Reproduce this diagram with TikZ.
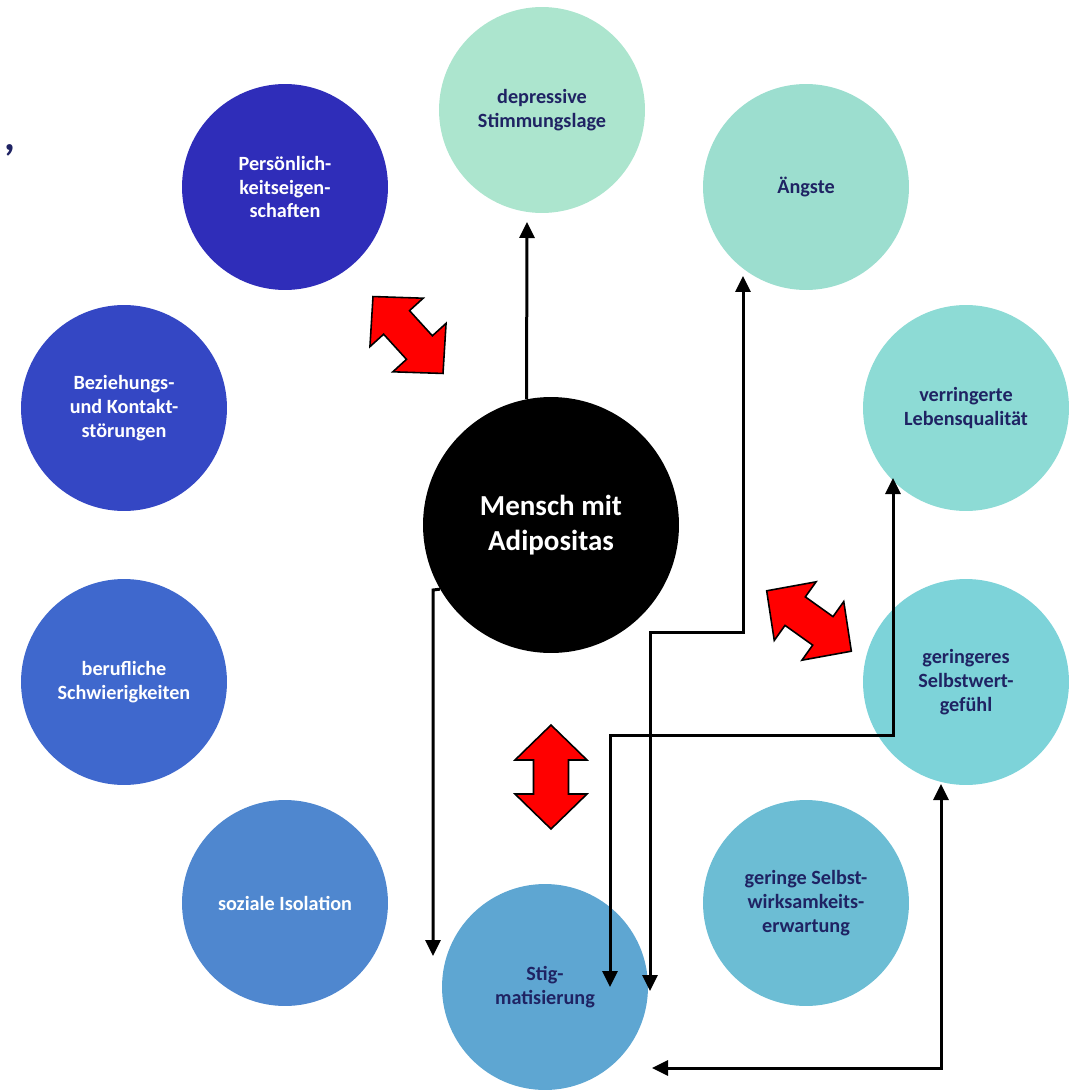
\documentclass[tikz,border=0pt]{standalone}
\usepackage{fontspec}
\setmainfont{Carlito}
\usetikzlibrary{arrows.meta}

\definecolor{navytext}{HTML}{1F2363}
\definecolor{cA}{HTML}{2F2DB9}
\definecolor{cB}{HTML}{3447C4}
\definecolor{cC}{HTML}{3F68CD}
\definecolor{cD}{HTML}{4F87CF}
\definecolor{cE}{HTML}{5EA6D2}
\definecolor{cF}{HTML}{6CBDD4}
\definecolor{cG}{HTML}{7DD3D9}
\definecolor{cH}{HTML}{8DDBD5}
\definecolor{cI}{HTML}{9CDECF}
\definecolor{cJ}{HTML}{ACE5CE}

\tikzset{
  bubble/.style={circle, minimum size=4.12cm, inner sep=0pt, draw=none,
    align=center, font=\bfseries\fontsize{11.5}{13.6}\selectfont},
  darkbubble/.style={bubble, text=white},
  lightbubble/.style={bubble, text=navytext},
  link/.style={line width=0.06cm, draw=black},
  tipend/.style={-{Triangle[width=0.3cm,length=0.32cm]}},
  tipboth/.style={{Triangle[width=0.3cm,length=0.32cm]}-{Triangle[width=0.3cm,length=0.32cm]}},
  dblarrow/.pic={
    \draw[fill=red, draw=black, line width=0.9pt, line join=miter]
      (-52,0) -- (-17,36) -- (-17,17.5) -- (17,17.5) -- (17,36) -- (52,0)
      -- (17,-36) -- (17,-17.5) -- (-17,-17.5) -- (-17,-36) -- cycle;
  }
}

\begin{document}
\begin{tikzpicture}[x=0.02cm, y=-0.02cm]
  \useasboundingbox (0,0) rectangle (1084,1091);

  % outer ring of consequences
  \node[darkbubble,  fill=cA] (pers)  at (285,187) {Persönlich-\\keitseigen-\\schaften};
  \node[lightbubble, fill=cJ] (depr)  at (542,110) {depressive\\Stimmungslage};
  \node[lightbubble, fill=cI] (angst) at (806,187) {Ängste};
  \node[lightbubble, fill=cH] (leben) at (966,408) {verringerte\\Lebensqualität};
  \node[lightbubble, fill=cG] (selbst) at (966,682) {geringeres\\Selbstwert-\\gefühl};
  \node[lightbubble, fill=cF] (wirk)  at (806,903) {geringe Selbst-\\wirksamkeits-\\erwartung};
  \node[lightbubble, fill=cE] (stig)  at (545,987) {Stig-\\matisierung};
  \node[darkbubble,  fill=cD] (iso)   at (285,903) {soziale Isolation};
  \node[darkbubble,  fill=cC] (beruf) at (124,682) {berufliche\\Schwierigkeiten};
  \node[darkbubble,  fill=cB] (bez)   at (124,408) {Beziehungs-\\und Kontakt-\\störungen};

  % centre
  \node[circle, minimum size=5.12cm, inner sep=0pt, fill=black, text=white,
        align=center, font=\bfseries\fontsize{16.5}{19.5}\selectfont]
        (mensch) at (551,525) {Mensch mit\\Adipositas};

  % stray comma at the left edge
  \node[text=navytext, font=\bfseries\fontsize{24}{26}\selectfont, inner sep=0pt]
        (komma) at (10,150) {,};

  % free ends of the connectors
  \coordinate (aTip)  at (743,276);
  \coordinate (aEnd)  at (650,991);
  \coordinate (lTip)  at (893,478);
  \coordinate (lEnd)  at (610,987);
  \coordinate (mEnd)  at (433,956);
  \coordinate (sTip)  at (941,784);
  \coordinate (sEnd)  at (652,1068);

  % connectors
  \draw[link, tipend] (mensch.101) -- (527,222);
  \draw[link, tipboth] (aTip) -- (743,632) -- (650,632) -- (aEnd);
  \draw[link, tipboth] (lTip) -- (893,735) -- (610,735) -- (lEnd);
  \draw[link, tipend] (mensch.210.5) -- (433,590) -- (mEnd);
  \draw[link, tipboth] (sTip) -- (941,1068) -- (sEnd);

  % red double arrows
  \pic[rotate=-47.7] at (408,335) {dblarrow};
  \pic[rotate=-35.5] at (809,621) {dblarrow};
  \pic[rotate=90]    at (551,777) {dblarrow};
\end{tikzpicture}
\end{document}
